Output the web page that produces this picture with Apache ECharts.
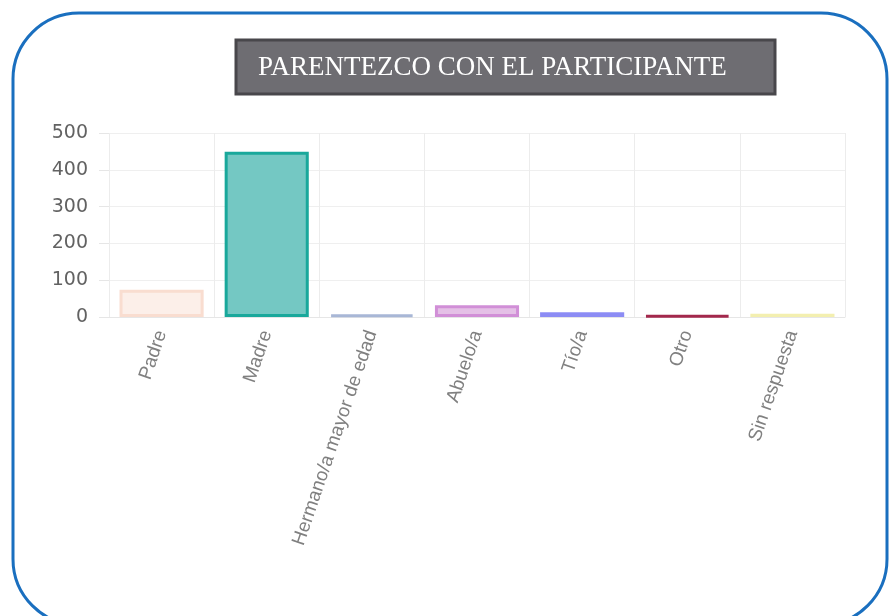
<!DOCTYPE html>
<html lang="es">
<head>
  <meta charset="UTF-8">
  <style>
    body { margin: 0; background: #fff; }
    #chart { width: 895px; height: 616px; }
  </style>
  <title>Parentesco</title>
</head>
<body>
  <div id="chart"></div>
  <script src="https://cdn.jsdelivr.net/npm/echarts@6/dist/echarts.min.js"></script>
  <script>
    var categories = ['Padre', 'Madre', 'Hermano/a mayor de edad', 'Abuelo/a', 'Tío/a', 'Otro', 'Sin respuesta'];
    var values = [74, 449, 7, 32, 13, 4, 9];
    var fills = ['rgba(250,228,218,0.6)', '#74c8c3', '#c3cde3', '#e4c0e6', '#a9a9f6', '#b84a6a', '#f8f6cc'];
    var borders = ['#f9ddd0', '#19a89b', '#a8b7d6', '#d18fd7', '#8c8cf4', '#a3284c', '#f3efb0'];
    var yTicks = { min: 0, max: 500, interval: 100 };

    var chart = echarts.init(document.getElementById('chart'));

    var barData = values.map(function (v, i) {
      return {
        value: v,
        itemStyle: { color: fills[i], borderColor: borders[i], borderWidth: 3 }
      };
    });

    var option = {
      animation: false,
      graphic: [
        {
          type: 'rect',
          shape: { x: 13, y: 13, width: 874, height: 612, r: 66 },
          style: { fill: 'none', stroke: '#1a6fbf', lineWidth: 3 },
          z: 0
        },
        {
          type: 'rect',
          shape: { x: 236, y: 40, width: 539, height: 54 },
          style: { fill: '#6e6d72', stroke: '#48474b', lineWidth: 3 },
          z: 1
        },
        {
          type: 'text',
          left: 258,
          top: 54,
          style: {
            text: 'PARENTEZCO CON EL PARTICIPANTE',
            fill: '#ffffff',
            font: '27px "Liberation Serif", "DejaVu Serif", serif'
          },
          z: 2
        }
      ],
      grid: { left: 109, right: 50, top: 133, bottom: 299 },
      xAxis: {
        type: 'category',
        data: categories,
        axisLine: { lineStyle: { color: '#e6e6e6' } },
        axisTick: { length: 8, lineStyle: { color: '#e0e0e0' } },
        splitLine: { show: true, lineStyle: { color: '#ececec' } },
        axisLabel: {
          rotate: 71,
          margin: 14,
          color: '#808080',
          fontSize: 19,
          fontFamily: '"Liberation Sans", Arial, sans-serif'
        }
      },
      yAxis: {
        type: 'value',
        min: yTicks.min,
        max: yTicks.max,
        interval: yTicks.interval,
        axisLine: { show: false },
        axisTick: { show: true, length: 10, lineStyle: { color: '#e6e6e6' } },
        splitLine: { lineStyle: { color: '#efefef' } },
        axisLabel: {
          margin: 21,
          color: '#626262',
          fontSize: 19,
          fontFamily: '"DejaVu Sans", "Noto Sans", sans-serif'
        }
      },
      series: [{
        type: 'bar',
        data: barData,
        barWidth: '80%'
      }]
    };

    chart.setOption(option);
  </script>
</body>
</html>
